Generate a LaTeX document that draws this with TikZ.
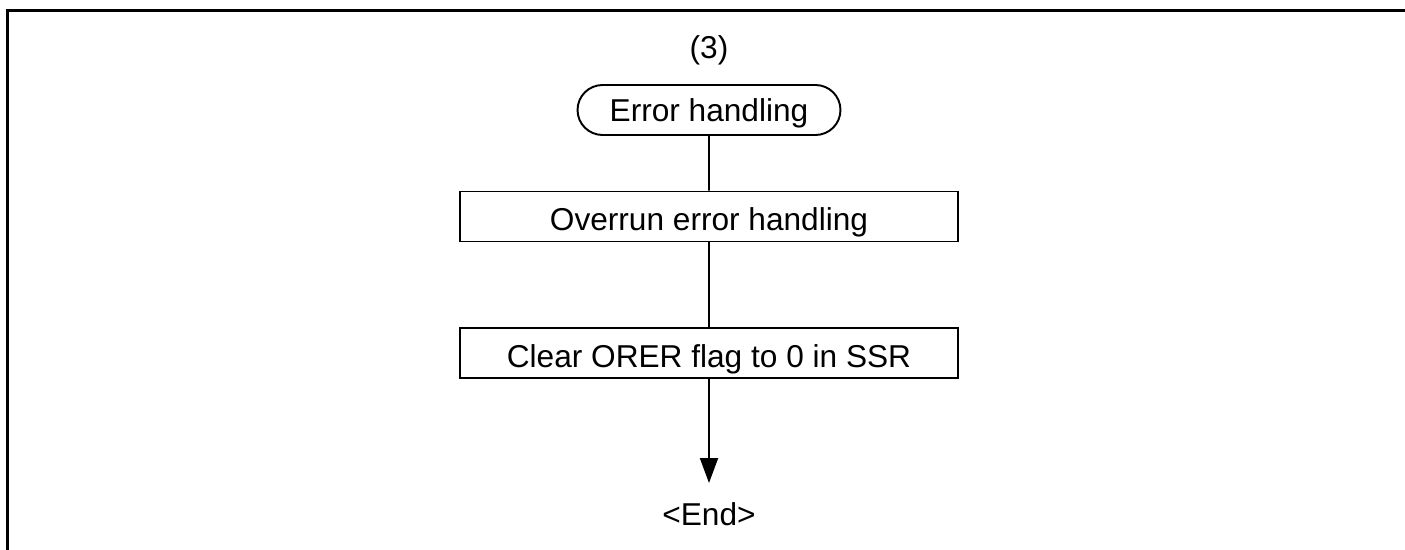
\documentclass[tikz,border=0pt]{standalone}
\usepackage{fontspec}
\setmainfont{Liberation Sans}
\usetikzlibrary{positioning, shapes.misc, arrows.meta}
\tikzset{
	flowtext/.style={font=\fontsize{18}{22}\selectfont, inner sep=0pt}
}
\tikzset{
	termbox/.style={flowtext, rounded rectangle, draw, line width=1.1pt, minimum width=5.26cm, minimum height=1.0cm, text height=0.48cm, text depth=0cm}
}
\tikzset{
	procbox/.style={flowtext, rectangle, draw, line width=1.1pt, minimum width=9.96cm, minimum height=1.0cm, text height=0.58cm, text depth=0cm}
}
\tikzset{
	flowline/.style={line width=1.1pt}
}
\begin{document}
\begin{tikzpicture}[x=0.02cm, y=-0.02cm]
  \useasboundingbox (0,0) rectangle (1405,550);
  \draw[line width=1.7pt] (7.5,550) |- (1405,10.5);
  \node[flowtext, anchor=base] (title) at (709,58.5) {(3)};
  \node[termbox] (start) at (709,110) {Error handling};
  \node[procbox] (overrun) at (709,216.5) {Overrun error handling};
  \node[procbox] (clear) at (709,353) {Clear ORER flag to 0 in SSR};
  \node[flowtext, anchor=base] (endlbl) at (709,525) {<End>};
  \coordinate (tip) at (709,483);
  \draw[flowline] (start) -- (overrun);
  \draw[flowline] (overrun) -- (clear);
  \draw[flowline, -{Triangle[length=0.5cm, width=0.36cm]}] (clear) -- (tip);
\end{tikzpicture}
\end{document}
